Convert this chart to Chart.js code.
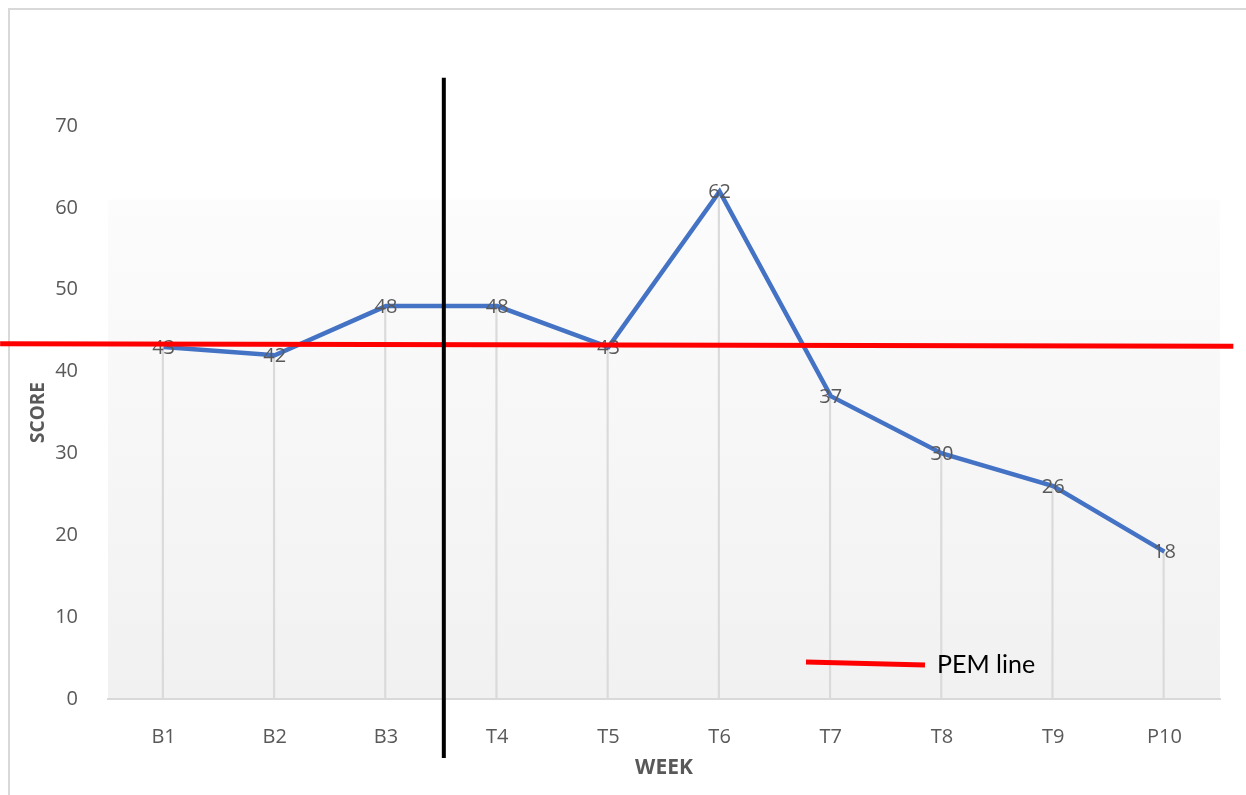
<!DOCTYPE html>
<html>
<head>
<meta charset="utf-8">
<script src="https://cdn.jsdelivr.net/npm/chart.js@4.4.0/dist/chart.umd.min.js"></script>
<style>
  html, body { margin: 0; padding: 0; background: #fff; }
  canvas { display: block; }
</style>
</head>
<body>
<canvas id="myChart" width="1246" height="795"></canvas>
<script>
// ---- data ----
const weeks = ['B1', 'B2', 'B3', 'T4', 'T5', 'T6', 'T7', 'T8', 'T9', 'P10'];
const scores = [43, 42, 48, 48, 43, 62, 37, 30, 26, 18];
const yTicks = [0, 10, 20, 30, 40, 50, 60, 70];
// PEM line (slightly tilted, runs past the plot on both sides)
const pemX = [-1.47, 9.62];
const pemY = [43.4, 43.1];
// phase change between B3 and T4
const phaseX = [2.52, 2.52];
const phaseY = [75.9, -7.2];

const grey = '#595959';

// white page, thin frame, shaded plot area
const backdrop = {
    id: 'backdrop',
    beforeDraw(chart) {
        const c = chart.ctx;
        const a = chart.chartArea;
        c.save();
        c.fillStyle = '#fff';
        c.fillRect(0, 0, chart.width, chart.height);
        c.strokeStyle = '#d9d9d9';
        c.lineWidth = 2;
        c.beginPath();
        c.moveTo(9, chart.height);
        c.lineTo(9, 9);
        c.lineTo(chart.width, 9);
        c.stroke();
        const top = chart.scales.y.getPixelForValue(61);
        const g = c.createLinearGradient(0, top, 0, a.bottom);
        g.addColorStop(0, '#fcfcfc');
        g.addColorStop(1, '#f1f1f1');
        c.fillStyle = g;
        c.fillRect(a.left, top, a.right - a.left, a.bottom - top);
        c.restore();
    }
};

// value labels on the blue line, drawn before the red/black lines
const valueLabels = {
    id: 'valueLabels',
    afterDatasetDraw(chart, args) {
        if (args.index !== 1) return;
        const c = chart.ctx;
        c.save();
        c.font = '20px "Open Sans"';
        c.fillStyle = grey;
        c.textAlign = 'center';
        c.textBaseline = 'middle';
        args.meta.data.forEach((p, i) => {
            c.fillText(String(scores[i]), p.x, p.y + 1);
        });
        c.restore();
    }
};

// hand-placed legend entry
const pemLegend = {
    id: 'pemLegend',
    afterDraw(chart) {
        const c = chart.ctx;
        c.save();
        c.strokeStyle = '#ff0000';
        c.lineWidth = 5;
        c.beginPath();
        c.moveTo(806, 662);
        c.lineTo(925, 665);
        c.stroke();
        c.font = '25px Lato';
        c.fillStyle = '#000';
        c.textAlign = 'left';
        c.textBaseline = 'middle';
        c.fillText('PEM line', 937, 665);
        c.restore();
    }
};

const ctx = document.getElementById('myChart').getContext('2d');
const myChart = new Chart(ctx, {
    type: 'line',
    data: {
        labels: weeks,
        datasets: [
            {
                type: 'bar',
                data: scores,
                backgroundColor: '#dadada',
                barThickness: 1.5,
                order: 4
            },
            {
                data: scores,
                borderColor: '#4472C4',
                borderWidth: 4.5,
                pointRadius: 0,
                tension: 0,
                order: 3
            },
            {
                data: pemX.map((x, i) => ({ x: x, y: pemY[i] })),
                xAxisID: 'xl',
                borderColor: '#ff0000',
                borderWidth: 5,
                pointRadius: 0,
                clip: false,
                order: 2
            },
            {
                data: phaseX.map((x, i) => ({ x: x, y: phaseY[i] })),
                xAxisID: 'xl',
                borderColor: '#000',
                borderWidth: 4,
                pointRadius: 0,
                clip: false,
                order: 1
            }
        ]
    },
    options: {
        responsive: false,
        animation: false,
        devicePixelRatio: 1,
        layout: { padding: { top: 126, right: 26, left: 0, bottom: 0 } },
        plugins: {
            legend: { display: false },
            tooltip: { enabled: false }
        },
        scales: {
            x: {
                offset: true,
                grid: { display: false },
                border: { color: '#d9d9d9', width: 2 },
                ticks: { color: grey, font: { family: 'Open Sans', size: 20 }, padding: 18 },
                title: {
                    display: true, text: 'WEEK', color: grey,
                    font: { family: 'Open Sans', size: 21, weight: 'bold' },
                    padding: { top: 0, bottom: 14 }
                },
                afterFit(s) { s.height = 96; }
            },
            xl: {
                type: 'linear',
                display: false,
                min: -0.5,
                max: 9.5
            },
            y: {
                min: 0,
                max: 70,
                afterBuildTicks(s) { s.ticks = yTicks.map(v => ({ value: v })); },
                grid: { display: false },
                border: { display: false },
                ticks: { color: grey, font: { family: 'Open Sans', size: 20 }, padding: 22 },
                title: {
                    display: true, text: 'SCORE', color: grey,
                    font: { family: 'Open Sans', size: 19, weight: 'bold' },
                    padding: { top: 27, bottom: 0 }
                },
                afterFit(s) { s.width = 108; }
            }
        }
    },
    plugins: [backdrop, valueLabels, pemLegend]
});
</script>
</body>
</html>
